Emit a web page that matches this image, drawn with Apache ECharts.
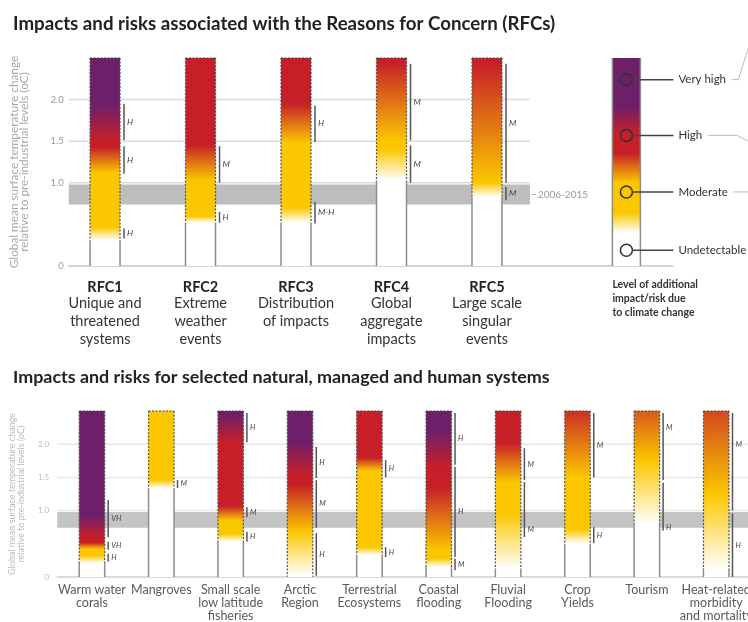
<!DOCTYPE html>
<html>
<head>
<meta charset="utf-8">
<title>Reasons for Concern embers</title>
<script src="https://cdn.jsdelivr.net/npm/echarts@6/dist/echarts.min.js"></script>
<style>
  html, body { margin: 0; padding: 0; background: #fff; }
  #main { width: 748px; height: 622px; }
</style>
</head>
<body>
<div id="main"></div>
<script>
// temperatures in oC above pre-industrial; risk level 0 undetectable, 1 moderate, 2 high, 3 very high
var yTicks = [0, 1.0, 1.5, 2.0];
var emberTop = 2.5;
var band2006 = [0.74, 0.98];
var levelColors = ['#ffffff', '#fbc700', '#c61f28', '#6e1f6a'];

var rfcNames = ['RFC1', 'RFC2', 'RFC3', 'RFC4', 'RFC5'];
var rfcDesc = ['Unique and\nthreatened\nsystems', 'Extreme\nweather\nevents', 'Distribution\nof impacts',
               'Global\naggregate\nimpacts', 'Large scale\nsingular\nevents'];
// [temperature, level]
var rfcStops = [
  [[0.31, 0], [0.47, 1], [1.12, 1], [1.43, 2], [1.5, 2], [1.95, 3]],
  [[0.52, 0], [0.6, 1], [1.03, 1], [1.46, 2]],
  [[0.52, 0], [0.7, 1], [1.48, 1], [1.95, 2]],
  [[1.03, 0], [1.4, 1], [1.5, 1], [2.45, 2]],
  [[0.83, 0], [1.0, 1], [2.45, 2]]
];
// [from, to, confidence, label at]
var rfcConf = [
  [[0.33, 0.45, 'H'], [1.11, 1.44, 'H'], [1.51, 1.95, 'H']],
  [[0.52, 0.65, 'H'], [1.0, 1.44, 'M']],
  [[0.51, 0.77, 'M-H'], [1.49, 1.93, 'H']],
  [[1.0, 1.45, 'M'], [1.51, 2.43, 'M']],
  [[0.79, 0.95, 'M'], [1.0, 2.43, 'M']]
];

var sysNames = ['Warm water\ncorals', 'Mangroves', 'Small scale\nlow latitude\nfisheries', 'Arctic\nRegion',
                'Terrestrial\nEcosystems', 'Coastal\nflooding', 'Fluvial\nFlooding', 'Crop\nYields', 'Tourism',
                'Heat-related\nmorbidity\nand mortality'];
var sysStops = [
  [[0.21, 0], [0.32, 1], [0.42, 1], [0.52, 2], [0.6, 2], [0.92, 3]],
  [[1.34, 0], [1.46, 1]],
  [[0.53, 0], [0.65, 1], [0.85, 1], [1.07, 2], [2.03, 2], [2.45, 3]],
  [[0.02, 0], [0.68, 1], [1.4, 2], [1.52, 2], [2.05, 3]],
  [[0.33, 0], [0.45, 1], [1.6, 1], [1.8, 2]],
  [[0.15, 0], [0.28, 1], [0.4, 1], [1.35, 2], [1.66, 2], [2.2, 3]],
  [[0.12, 0], [0.95, 1], [1.42, 1], [2.02, 2]],
  [[0.5, 0], [0.72, 1], [1.5, 1], [2.5, 1.9]],
  [[0.8, 0], [1.75, 1], [2.5, 1.65]],
  [[0.1, 0], [1.25, 1], [2.5, 1.75]]
];
var sysConf = [
  [[0.23, 0.35, 'H'], [0.41, 0.53, 'VH'], [0.6, 1.16, 'VH']],
  [[1.34, 1.46, 'M']],
  [[0.53, 0.68, 'H'], [0.9, 1.05, 'M'], [2.03, 2.47, 'H']],
  [[0.02, 0.66, 'H'], [0.74, 1.46, 'M'], [1.49, 1.96, 'H']],
  [[0.3, 0.45, 'H'], [1.5, 1.76, 'H']],
  [[0.1, 0.28, 'M'], [0.3, 1.66, 'H'], [1.69, 2.47, 'H']],
  [[0.6, 1.43, 'M', 0.71], [1.46, 1.94, 'M']],
  [[0.51, 0.75, 'H'], [1.5, 2.47, 'M']],
  [[0.7, 1.42, 'H', 0.74], [1.46, 2.47, 'M', 2.25]],
  [[0, 0.96, 'H'], [1.0, 2.47, 'M', 2.0]]
];

var legendLevels = ['Undetectable', 'Moderate', 'High', 'Very high'];
var legendAt = [0.19, 0.89, 1.57, 2.24];
var legendStops = [[0.4, 0], [0.64, 1], [1.0, 1], [1.36, 2], [1.6, 2], [1.91, 3]];

var FONT = "Lato, 'Open Sans', sans-serif";

function hexRgb(h) {
  return [parseInt(h.slice(1, 3), 16), parseInt(h.slice(3, 5), 16), parseInt(h.slice(5, 7), 16)];
}
function levelColor(l) {
  var i = Math.min(Math.floor(l), levelColors.length - 2);
  var t = l - i;
  var a = hexRgb(levelColors[i]), b = hexRgb(levelColors[i + 1]);
  return 'rgb(' + a.map(function (v, j) { return Math.round(v + (b[j] - v) * t); }).join(',') + ')';
}
function emberGradient(stops) {
  var s = stops.map(function (d) {
    return { offset: (emberTop - d[0]) / emberTop, color: levelColor(d[1]) };
  }).reverse();
  return new echarts.graphic.LinearGradient(0, 0, 0, 1, s);
}

function makeEmber(stopsArr, confArr, opt) {
  return function (params, api) {
    var k = params.dataIndex;
    var xv = api.value(0);
    var p0 = api.coord([xv, 0]);
    var pT = api.coord([xv, emberTop]);
    var st = stopsArr[k];
    var yc = api.coord([xv, st[0][0]])[1];
    var l = p0[0] - opt.w / 2, r = p0[0] + opt.w / 2;
    var kids = [{
      type: 'rect',
      shape: { x: l, y: pT[1], width: opt.w, height: p0[1] - pT[1] },
      style: { fill: emberGradient(st) }
    }];
    [l, r].forEach(function (x) {
      kids.push({ type: 'line', shape: { x1: x, y1: yc, x2: x, y2: p0[1] },
        style: { stroke: '#8c8c8c', lineWidth: 1.5 } });
      kids.push({ type: 'line', shape: { x1: x, y1: pT[1], x2: x, y2: yc },
        style: { stroke: '#555', lineWidth: 1.2, lineDash: [2, 1.5] } });
    });
    kids.push({ type: 'line', shape: { x1: l, y1: pT[1], x2: r, y2: pT[1] },
      style: { stroke: '#444', lineWidth: 1.2, lineDash: [2, 1.5] } });
    var bx = r + opt.gap;
    confArr[k].forEach(function (c) {
      var a = api.coord([xv, c[0]])[1], b = api.coord([xv, c[1]])[1];
      kids.push({ type: 'line', shape: { x1: bx, y1: a, x2: bx, y2: b },
        style: { stroke: '#555', lineWidth: 1.5 } });
      var at = c.length > 3 ? c[3] : (c[0] + c[1]) / 2;
      kids.push({ type: 'text', style: {
        x: bx + 3, y: api.coord([xv, at])[1], text: c[2], fontStyle: 'italic',
        fontSize: opt.confSize, fontFamily: FONT, fill: '#444', verticalAlign: 'middle'
      } });
    });
    kids.push(opt.label(k, p0[0], p0[1]));
    return { type: 'group', children: kids };
  };
}

function makeGuides(x0, x1, lineColor, bandColor, note) {
  return function (params, api) {
    var kids = [];
    yTicks.forEach(function (t) {
      if (t <= band2006[1]) return;
      var a = api.coord([x0, t]), b = api.coord([x1, t]);
      kids.push({ type: 'line', shape: { x1: a[0], y1: a[1], x2: b[0], y2: b[1] },
        style: { stroke: lineColor, lineWidth: 1.5 } });
    });
    var p = api.coord([x0, band2006[1]]), q = api.coord([x1, band2006[0]]);
    kids.push({ type: 'rect', shape: { x: p[0], y: p[1], width: q[0] - p[0], height: q[1] - p[1] },
      style: { fill: bandColor } });
    if (note) {
      var ym = (p[1] + q[1]) / 2;
      kids.push({ type: 'line', shape: { x1: q[0] + 2, y1: ym, x2: q[0] + 6, y2: ym },
        style: { stroke: '#aaa', lineWidth: 1 } });
      kids.push({ type: 'text', style: { x: q[0] + 8, y: ym, text: note, fontSize: 10,
        fontFamily: FONT, fill: '#999', verticalAlign: 'middle' } });
    }
    return { type: 'group', children: kids };
  };
}

function legendRender(params, api) {
  var xv = api.value(0);
  var w = 28;
  var p0 = api.coord([xv, 0]), pT = api.coord([xv, emberTop]);
  var l = p0[0] - w / 2, r = p0[0] + w / 2;
  var kids = [{ type: 'rect', shape: { x: l, y: pT[1], width: w, height: p0[1] - pT[1] },
    style: { fill: emberGradient(legendStops) } }];
  [l, r].forEach(function (x) {
    kids.push({ type: 'line', shape: { x1: x, y1: pT[1], x2: x, y2: p0[1] },
      style: { stroke: '#8c8c8c', lineWidth: 1.5 } });
  });
  legendLevels.forEach(function (name, i) {
    var y = api.coord([xv, legendAt[i]])[1];
    kids.push({ type: 'circle', shape: { cx: p0[0], cy: y, r: 6 },
      style: { fill: 'none', stroke: '#333', lineWidth: 1.5 } });
    kids.push({ type: 'line', shape: { x1: p0[0] + 6, y1: y, x2: p0[0] + 47, y2: y },
      style: { stroke: '#444', lineWidth: 1.5 } });
    kids.push({ type: 'text', style: { x: p0[0] + 52, y: y, text: name, fontSize: 11.5,
      fontFamily: FONT, fill: '#333', verticalAlign: 'middle' } });
  });
  // connector stubs running off the right edge
  var yv = api.coord([xv, legendAt[3]])[1], yh = api.coord([xv, legendAt[2]])[1],
      ym = api.coord([xv, legendAt[1]])[1];
  kids.push({ type: 'polyline', shape: { points: [[p0[0] + 105, yv], [p0[0] + 112, yv], [p0[0] + 122, yv - 32]] },
    style: { stroke: '#bbb', lineWidth: 1, fill: 'none' } });
  kids.push({ type: 'polyline', shape: { points: [[p0[0] + 82, yh], [p0[0] + 111, yh], [p0[0] + 122, yh + 6]] },
    style: { stroke: '#bbb', lineWidth: 1, fill: 'none' } });
  kids.push({ type: 'line', shape: { x1: p0[0] + 107, y1: ym, x2: p0[0] + 122, y2: ym },
    style: { stroke: '#bbb', lineWidth: 1 } });
  kids.push({ type: 'text', style: { x: l, y: p0[1] + 12,
    text: 'Level of additional\nimpact/risk due\nto climate change', fontSize: 10.5, fontWeight: 'bold',
    lineHeight: 14, fontFamily: FONT, fill: '#333', verticalAlign: 'top' } });
  return { type: 'group', children: kids };
}

function tickFormatter(v) {
  for (var i = 0; i < yTicks.length; i++) {
    if (Math.abs(yTicks[i] - v) < 1e-6) return v === 0 ? '0' : v.toFixed(1);
  }
  return '';
}

var chart = echarts.init(document.getElementById('main'));
var topMin = 0.62, topMax = 6.948, botMin = 0.5, botMax = 10.458;

var option = {
  animation: false,
  backgroundColor: '#fff',
  title: [
    { text: 'Impacts and risks associated with the Reasons for Concern (RFCs)', left: 8, top: 9,
      textStyle: { fontFamily: FONT, fontWeight: 'bold', fontSize: 18.7, color: '#222' } },
    { text: 'Impacts and risks for selected natural, managed and human systems', left: 8, top: 363,
      textStyle: { fontFamily: FONT, fontWeight: 'bold', fontSize: 17.9, color: '#222' } }
  ],
  grid: [
    { left: 63, top: 58, width: 610, height: 208 },
    { left: 43, top: 411, width: 705, height: 166 }
  ],
  xAxis: [
    { type: 'value', gridIndex: 0, min: topMin, max: topMax,
      axisLine: { show: true, lineStyle: { color: '#c8c8c8', width: 1.5 } },
      axisTick: { show: false }, axisLabel: { show: false }, splitLine: { show: false } },
    { type: 'value', gridIndex: 1, min: botMin, max: botMax,
      axisLine: { show: true, lineStyle: { color: '#d0d0d0', width: 1.5 } },
      axisTick: { show: false }, axisLabel: { show: false }, splitLine: { show: false } }
  ],
  yAxis: [
    { type: 'value', gridIndex: 0, min: 0, max: emberTop, interval: 0.5,
      name: 'Global mean surface temperature change\nrelative to pre-industrial levels (oC)',
      nameLocation: 'middle', nameGap: 39, nameRotate: 90,
      nameTextStyle: { fontFamily: FONT, fontSize: 11.8, lineHeight: 10.5, color: '#a8a8a8' },
      axisLine: { show: false }, axisTick: { show: false }, splitLine: { show: false },
      axisLabel: { formatter: tickFormatter, fontFamily: FONT, fontSize: 9.5, color: '#999', margin: 5 } },
    { type: 'value', gridIndex: 1, min: 0, max: emberTop, interval: 0.5,
      name: 'Global mean surface temperature change\nrelative to pre-industrial levels (oC)',
      nameLocation: 'middle', nameGap: 32, nameRotate: 90,
      nameTextStyle: { fontFamily: FONT, fontSize: 9, lineHeight: 8.5, color: '#bbb' },
      axisLine: { show: false }, axisTick: { show: false }, splitLine: { show: false },
      axisLabel: { formatter: tickFormatter, fontFamily: FONT, fontSize: 8, color: '#bbb', margin: 8 } }
  ],
  series: [
    { type: 'custom', name: 'topGuides', xAxisIndex: 0, yAxisIndex: 0, z: 1, silent: true,
      data: [[topMin, 0]], renderItem: makeGuides(topMin, 5.45, '#dcdcdc', '#bdbdbd', '2006-2015') },
    { type: 'custom', name: 'RFC', xAxisIndex: 0, yAxisIndex: 0, z: 3, silent: true,
      data: rfcNames.map(function (n, i) { return [i + 1, emberTop]; }),
      renderItem: makeEmber(rfcStops, rfcConf, {
        w: 30, gap: 4, confSize: 8.5,
        label: function (k, cx, y0) {
          return { type: 'text', style: {
            x: cx, y: y0 + 13.5, align: 'center', verticalAlign: 'top',
            text: '{a|' + rfcNames[k] + '}\n' + rfcDesc[k].split('\n').map(function (s) { return '{b|' + s + '}'; }).join('\n'),
            rich: {
              a: { fontFamily: FONT, fontWeight: 'bold', fontSize: 14.5, lineHeight: 15, fill: '#222', align: 'center' },
              b: { fontFamily: FONT, fontSize: 14.5, lineHeight: 18, fill: '#333', align: 'center' }
            }
          } };
        }
      }) },
    { type: 'custom', name: 'legend', xAxisIndex: 0, yAxisIndex: 0, z: 3, silent: true,
      data: [[6.46, emberTop]], renderItem: legendRender },
    { type: 'custom', name: 'bottomGuides', xAxisIndex: 1, yAxisIndex: 1, z: 1, silent: true,
      data: [[botMin, 0]], renderItem: makeGuides(botMin, botMax, '#e6e6e6', '#c4c4c4', null) },
    { type: 'custom', name: 'systems', xAxisIndex: 1, yAxisIndex: 1, z: 3, silent: true,
      data: sysNames.map(function (n, i) { return [i + 1, emberTop]; }),
      renderItem: makeEmber(sysStops, sysConf, {
        w: 25.5, gap: 3.5, confSize: 7.5,
        label: function (k, cx, y0) {
          return { type: 'text', style: {
            x: cx, y: y0 + 6.5, align: 'center', verticalAlign: 'top', text: sysNames[k],
            fontFamily: FONT, fontSize: 12.5, lineHeight: 13, fill: '#5a5a5a'
          } };
        }
      }) }
  ]
};
chart.setOption(option);
</script>
</body>
</html>
